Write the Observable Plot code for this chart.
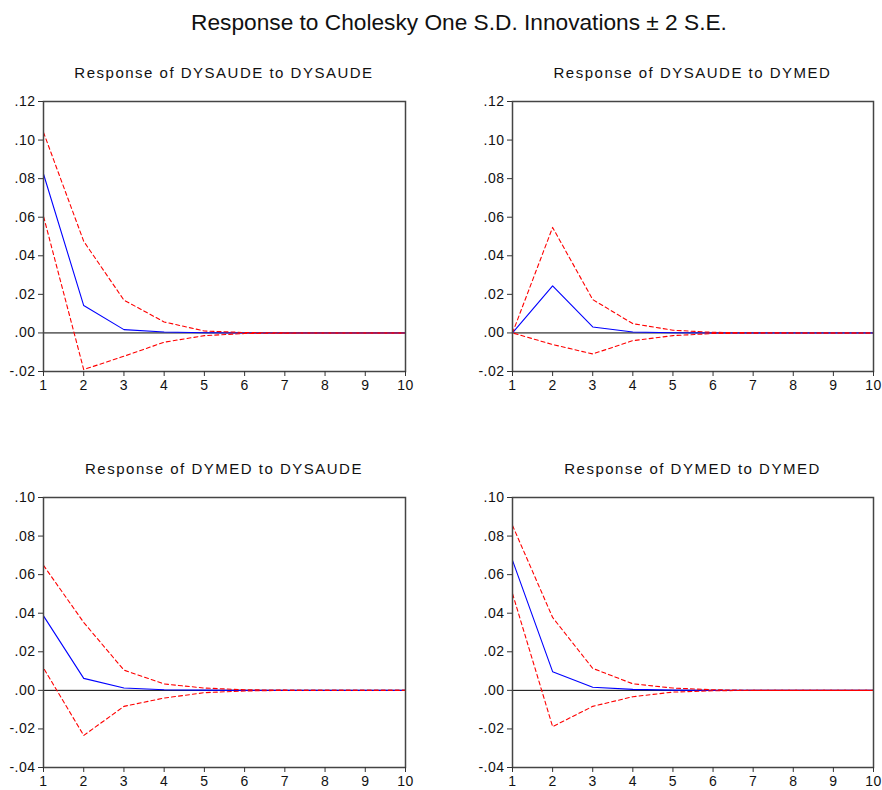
<!DOCTYPE html>
<html>
<head>
<meta charset="utf-8">
<script src="https://cdn.jsdelivr.net/npm/d3@7"></script>
<script src="https://cdn.jsdelivr.net/npm/@observablehq/plot@0.6"></script>
<style>
  html, body { margin: 0; padding: 0; background: #fff; }
  #wrap { position: relative; width: 882px; height: 790px; background: #fff; font-family: "Liberation Sans", Arial, sans-serif; color: #111; overflow: hidden; }
  .main-title { position: absolute; left: 0; width: 918px; top: 8px; text-align: center; font-size: 22.7px; line-height: 28px; }
  .panel-title { position: absolute; text-align: center; font-size: 15px; letter-spacing: 1.5px; line-height: 18px; white-space: nowrap; }
  .panel { position: absolute; overflow: visible; }
</style>
</head>
<body>
<div id="wrap">
  <div class="main-title" id="mainTitle"></div>
</div>
<script>
const periods = [1, 2, 3, 4, 5, 6, 7, 8, 9, 10];

const mainTitle = "Response to Cholesky One S.D. Innovations ± 2 S.E.";
const panelTitles = [
  "Response of DYSAUDE to DYSAUDE",
  "Response of DYSAUDE to DYMED",
  "Response of DYMED to DYSAUDE",
  "Response of DYMED to DYMED"
];

// Response of DYSAUDE to DYSAUDE
const saudeSaudeResp  = [0.0824, 0.0142, 0.0017, 0.0005, 0.0001, 0.0000, 0.0000, 0.0000, 0.0000, 0.0000];
const saudeSaudeUpper = [0.1040, 0.0475, 0.0170, 0.0057, 0.0010, 0.0002, 0.0000, 0.0000, 0.0000, 0.0000];
const saudeSaudeLower = [0.0605, -0.0190, -0.0121, -0.0048, -0.0014, -0.0003, -0.0001, 0.0000, 0.0000, 0.0000];

// Response of DYSAUDE to DYMED
const saudeMedResp  = [0.0000, 0.0244, 0.0031, 0.0005, 0.0001, 0.0000, 0.0000, 0.0000, 0.0000, 0.0000];
const saudeMedUpper = [0.0000, 0.0547, 0.0173, 0.0048, 0.0014, 0.0003, 0.0001, 0.0000, 0.0000, 0.0000];
const saudeMedLower = [0.0000, -0.0060, -0.0109, -0.0040, -0.0014, -0.0003, -0.0001, 0.0000, 0.0000, 0.0000];

// Response of DYMED to DYSAUDE
const medSaudeResp  = [0.0386, 0.0062, 0.0012, 0.0003, 0.0001, 0.0000, 0.0000, 0.0000, 0.0000, 0.0000];
const medSaudeUpper = [0.0648, 0.0352, 0.0105, 0.0033, 0.0012, 0.0003, 0.0001, 0.0000, 0.0000, 0.0000];
const medSaudeLower = [0.0116, -0.0234, -0.0083, -0.0040, -0.0012, -0.0003, 0.0000, 0.0000, 0.0000, 0.0000];

// Response of DYMED to DYMED
const medMedResp  = [0.0674, 0.0097, 0.0016, 0.0005, 0.0001, 0.0000, 0.0000, 0.0000, 0.0000, 0.0000];
const medMedUpper = [0.0855, 0.0378, 0.0114, 0.0034, 0.0012, 0.0003, 0.0000, 0.0000, 0.0000, 0.0000];
const medMedLower = [0.0502, -0.0188, -0.0083, -0.0033, -0.0009, -0.0002, 0.0000, 0.0000, 0.0000, 0.0000];

const topYTicks = [-0.02, 0.00, 0.02, 0.04, 0.06, 0.08, 0.10, 0.12];
const bottomYTicks = [-0.04, -0.02, 0.00, 0.02, 0.04, 0.06, 0.08, 0.10];

document.getElementById("mainTitle").textContent = mainTitle;

const fmt = d => (d < -1e-9 ? "-" : "") + Math.abs(d).toFixed(2).replace(/^0/, "");
const rows = arr => periods.map((p, i) => ({period: p, value: arr[i]}));

const panels = [
  {title: panelTitles[0], resp: saudeSaudeResp, up: saudeSaudeUpper, lo: saudeSaudeLower, yTicks: topYTicks, left: 0, top: 90, width: 420, mr: 15},
  {title: panelTitles[1], resp: saudeMedResp, up: saudeMedUpper, lo: saudeMedLower, yTicks: topYTicks, left: 469, top: 90, width: 413, mr: 9},
  {title: panelTitles[2], resp: medSaudeResp, up: medSaudeUpper, lo: medSaudeLower, yTicks: bottomYTicks, left: 0, top: 486, width: 420, mr: 15},
  {title: panelTitles[3], resp: medMedResp, up: medMedUpper, lo: medMedLower, yTicks: bottomYTicks, left: 469, top: 486, width: 413, mr: 9}
];

const wrap = document.getElementById("wrap");
const ML = 43, MT = 11, MB = 30, H = 311;
const DASH = "4,3", PERIOD = 7;

for (const p of panels) {
  const chart = Plot.plot({
    width: p.width,
    height: H,
    marginLeft: ML,
    marginRight: p.mr,
    marginTop: MT,
    marginBottom: MB,
    style: {fontFamily: "'Liberation Sans', Arial, sans-serif", fontSize: "14px", letterSpacing: "0.5px", color: "#111", background: "transparent", overflow: "visible"},
    x: {domain: [1, 10]},
    y: {domain: [p.yTicks[0], p.yTicks[p.yTicks.length - 1]]},
    marks: [
      Plot.ruleY([0], {stroke: "#000", strokeWidth: 1}),
      Plot.line(rows(p.resp), {x: "period", y: "value", stroke: "#0000ff", strokeWidth: 1.1}),
      Plot.line(rows(p.up), {x: "period", y: "value", stroke: "#ff0000", strokeWidth: 1.1, strokeDasharray: DASH, className: "band-up"}),
      Plot.line(rows(p.lo), {x: "period", y: "value", stroke: "#ff0000", strokeWidth: 1.1, strokeDasharray: DASH, className: "band-lo"}),
      Plot.frame({stroke: "#444", strokeWidth: 1.5}),
      Plot.axisX({ticks: periods, tickFormat: d => String(d), tickSize: 5, tickPadding: 4, stroke: "#333", label: null}),
      Plot.axisY({ticks: p.yTicks, tickFormat: fmt, tickSize: 5, tickPadding: 3, stroke: "#333", label: null})
    ]
  });
  chart.classList.add("panel");
  chart.style.left = p.left + "px";
  chart.style.top = p.top + "px";
  wrap.appendChild(chart);

  // align dash phases of the two bands at their common end so the overlapping tail reads as a solid line
  const up = chart.querySelector(".band-up path");
  const lo = chart.querySelector(".band-lo path");
  if (up && lo && up.getTotalLength) {
    const lu = up.getTotalLength(), ll = lo.getTotalLength();
    const off = ((lu + PERIOD / 2 - ll) % PERIOD + PERIOD) % PERIOD;
    lo.setAttribute("stroke-dashoffset", String(-off));
  }

  const t = document.createElement("div");
  t.className = "panel-title";
  const frameLeft = p.left + ML;
  const frameRight = p.left + p.width - p.mr;
  t.style.left = frameLeft + "px";
  t.style.width = (frameRight - frameLeft) + "px";
  t.style.top = (p.top - 26) + "px";
  t.textContent = p.title;
  wrap.appendChild(t);
}
</script>
</body>
</html>
